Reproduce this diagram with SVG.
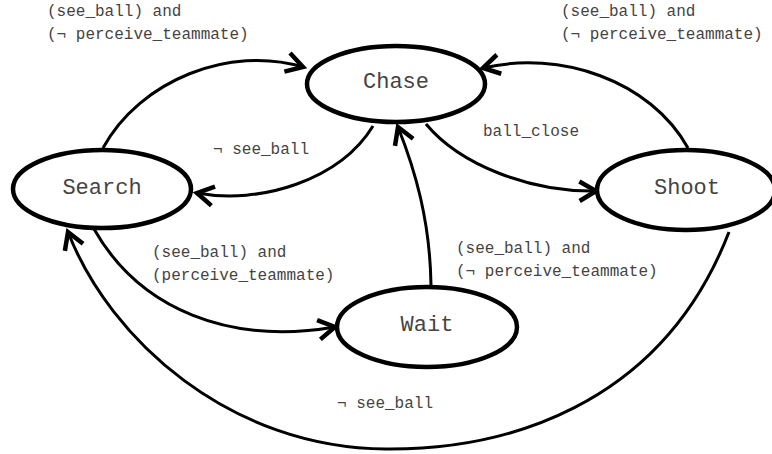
<svg xmlns="http://www.w3.org/2000/svg" width="772" height="454" viewBox="0 0 772 454">
  <style>
    .state { fill: #ffffff; stroke: #000000; stroke-width: 4.5; }
    .state-label { font-family: "Liberation Mono", "Courier New", monospace; font-size: 22px; fill: #444444; text-anchor: middle; }
    .edge { fill: none; stroke: #000000; stroke-width: 3; marker-end: url(#arrow); }
    .edge-label { font-family: "Liberation Mono", "Courier New", monospace; font-size: 16px; fill: #444444; }
  </style>
  <defs>
    <marker id="arrow" markerUnits="userSpaceOnUse" markerWidth="30" markerHeight="30" viewBox="-16 -10 20 20" refX="0" refY="0" orient="auto">
      <path d="M-11,-6.5 L0,0 L-11,6.5" fill="none" stroke="#000000" stroke-width="3" stroke-linejoin="miter"/>
    </marker>
  </defs>
  <rect width="772" height="454" fill="#ffffff"/>

  <!-- transitions -->
  <g id="connectors">
    <path class="edge" d="M103,148 C140,80 230,45 303,67"/>
    <path class="edge" d="M373,126 C340,180 260,205 197,193"/>
    <path class="edge" d="M426,124 C460,165 530,192 596,191"/>
    <path class="edge" d="M688,148 C650,80 560,50 483,68"/>
    <path class="edge" d="M431,285 C430,220 415,170 398,127"/>
    <path class="edge" d="M94,229 C140,310 230,345 335,327"/>
    <path class="edge" d="M729,232 C660,410 500,450 386,449 C230,448 110,340 68,232"/>
  </g>

  <!-- transition conditions -->
  <g id="labels">
    <text class="edge-label" x="47" y="16">(see_ball) and</text>
    <text class="edge-label" x="47" y="39">(¬ perceive_teammate)</text>
    <text class="edge-label" x="561" y="16">(see_ball) and</text>
    <text class="edge-label" x="561" y="39">(¬ perceive_teammate)</text>
    <text class="edge-label" x="213" y="154">¬ see_ball</text>
    <text class="edge-label" x="483" y="136">ball_close</text>
    <text class="edge-label" x="456" y="253">(see_ball) and</text>
    <text class="edge-label" x="456" y="276">(¬ perceive_teammate)</text>
    <text class="edge-label" x="152" y="257">(see_ball) and</text>
    <text class="edge-label" x="152" y="280">(perceive_teammate)</text>
    <text class="edge-label" x="337" y="408">¬ see_ball</text>
  </g>

  <!-- states -->
  <g id="search">
    <ellipse class="state" cx="102" cy="189" rx="89" ry="39"/>
    <text class="state-label" x="102" y="194">Search</text>
  </g>
  <g id="chase">
    <ellipse class="state" cx="396" cy="84" rx="89" ry="38"/>
    <text class="state-label" x="396" y="88">Chase</text>
  </g>
  <g id="shoot">
    <ellipse class="state" cx="686" cy="190" rx="89" ry="40"/>
    <text class="state-label" x="687" y="194">Shoot</text>
  </g>
  <g id="wait">
    <ellipse class="state" cx="427" cy="327" rx="90" ry="40"/>
    <text class="state-label" x="427" y="331">Wait</text>
  </g>
</svg>
